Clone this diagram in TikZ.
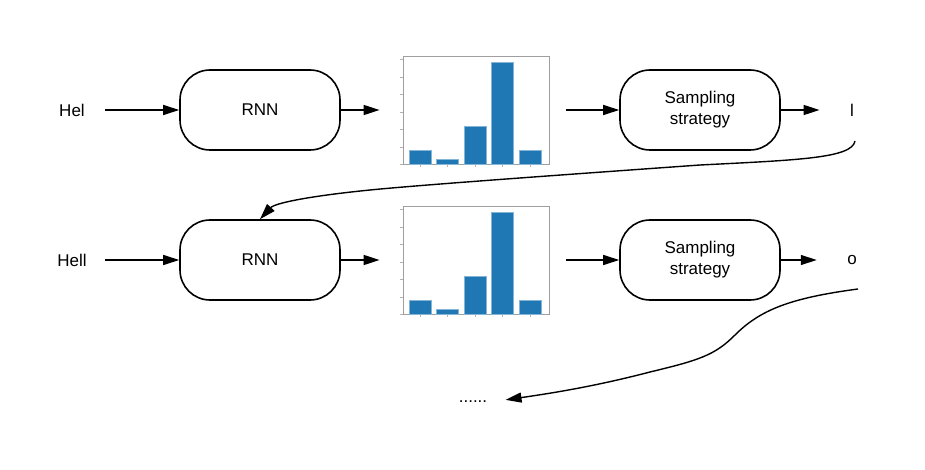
\documentclass[tikz,border=0pt]{standalone}
\usepackage{fontspec}
\setmainfont{Liberation Sans}
\usetikzlibrary{arrows.meta}
\definecolor{barblue}{HTML}{1F77B4}

\tikzset{
  pill/.style={draw,line width=1.6pt,rounded corners=30pt,minimum width=160pt,minimum height=80pt,align=center},
  histframe/.style={draw=gray!75,line width=0.8pt,minimum width=146pt,minimum height=108pt,inner sep=0pt},
  arr/.style={-{Triangle[length=16pt,width=10pt]},line width=1.4pt},
}

% bars of one histogram, drawn inside its frame
\newcommand{\histbars}[1]{%
  \begin{scope}[shift={(#1.south west)}]
    \foreach \bx/\bh in {7/14,34/5,62/38,89/102,117/14}{
      \filldraw[fill=barblue,draw=barblue!55!white,line width=0.6pt] (\bx,0) rectangle ++(22,-\bh);
      \draw[gray!60,line width=0.5pt] (\bx+11,0)--(\bx+11,2.5);
    }
    \foreach \ty in {0,17.5,35,52.5,70,87.5,105}{
      \draw[gray!60,line width=0.5pt] (0,-\ty)--(-2.5,-\ty);
    }
  \end{scope}}

\begin{document}
\begin{tikzpicture}[x=1pt,y=-1pt,every node/.style={font=\fontsize{17}{21}\selectfont}]
            \useasboundingbox (0,0) rectangle (925,470);

            % first step
            \node (in1) at (72,110) {Hel};
            \node[pill] (rnn1) at (260,110) {RNN};
            \node[histframe] (hist1) at (476,110) {};
            \histbars{hist1}
            \node[pill] (samp1) at (700,110) {Sampling\\strategy};
            \node (out1) at (852,110) {l};

            \draw[arr,shorten <=17pt] (in1) -- (rnn1);
            \draw[arr,shorten >=23pt] (rnn1) -- (hist1);
            \draw[arr,shorten <=17pt] (hist1) -- (samp1);
            \draw[arr,shorten >=27pt] (samp1) -- (out1);

            % second step
            \node (in2) at (72,260) {Hell};
            \node[pill] (rnn2) at (260,260) {RNN};
            \node[histframe] (hist2) at (476,260) {};
            \histbars{hist2}
            \node[pill] (samp2) at (700,260) {Sampling\\strategy};
            \node (out2) at (852,260) {o};

            \draw[arr,shorten <=15pt] (in2) -- (rnn2);
            \draw[arr,shorten >=23pt] (rnn2) -- (hist2);
            \draw[arr,shorten <=17pt] (hist2) -- (samp2);
            \draw[arr,shorten >=27pt] (samp2) -- (out2);

            \node (dots) at (473,402) {......};

            % feed the sampled letters back
            \coordinate (tail1) at (855,141);
            \coordinate (tail2) at (858,289);
            \draw[arr] (tail1) .. controls (852,158) and (800,160) .. (700,165)
                .. controls (560,175) and (420,185) .. (370,190)
                .. controls (310,196) and (275,203) .. (rnn2.north);
            \draw[arr,shorten >=15pt] (tail2) .. controls (790,298) and (760,310) .. (735,335)
                .. controls (715,355) and (700,360) .. (650,372)
                .. controls (600,385) and (560,392) .. (dots.east);
        \end{tikzpicture}
\end{document}
